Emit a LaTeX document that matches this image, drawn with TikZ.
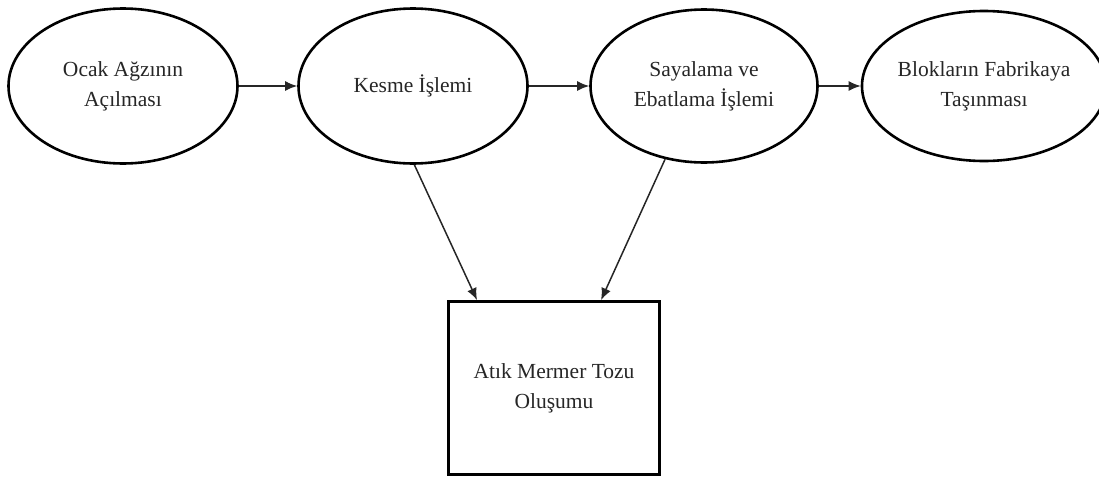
\documentclass[tikz,border=0pt]{standalone}
\usepackage{fontspec}
\setmainfont{Liberation Serif}
\usetikzlibrary{shapes.geometric,arrows.meta,calc}
\begin{document}
\begin{tikzpicture}[x=1pt,y=-1pt,
  txt/.style={font=\fontsize{21.5}{30}\selectfont, align=center, text=black!85},
  ell/.style={ellipse, draw=black, line width=2.6pt, inner sep=0pt, txt},
  box/.style={rectangle, draw=black, line width=2.8pt, inner sep=0pt, txt},
  arr/.style={draw=black!85, line width=1.5pt, -{Latex[length=12pt,width=10pt]}}]
\useasboundingbox (0,0) rectangle (1099,477);
\node[ell, minimum width=229pt, minimum height=155pt] (e1) at (123,86) {Ocak Ağzının\\Açılması};
\node[ell, minimum width=229pt, minimum height=155pt] (e2) at (413,86) {Kesme İşlemi};
\node[ell, minimum width=227pt, minimum height=153pt] (e3) at (704,86) {Sayalama ve\\Ebatlama İşlemi};
\node[ell, minimum width=218pt, minimum height=150pt] (e4) at (984,86) {Blokların Fabrikaya\\Taşınması};
\node[box, minimum width=211pt, minimum height=173pt] (r) at (554,388) {Atık Mermer Tozu\\Oluşumu};
\coordinate (r1) at ($(r.north west)!0.14!(r.north east)$);
\coordinate (r2) at ($(r.north west)!0.72!(r.north east)$);
\draw[arr] (e1.east) -- (e2.west);
\draw[arr] (e2.east) -- (e3.west);
\draw[arr] (e3.east) -- (e4.west);
\draw[arr] (e2.271) -- (r1);
\draw[arr] (e3.242) -- (r2);
\end{tikzpicture}
\end{document}
